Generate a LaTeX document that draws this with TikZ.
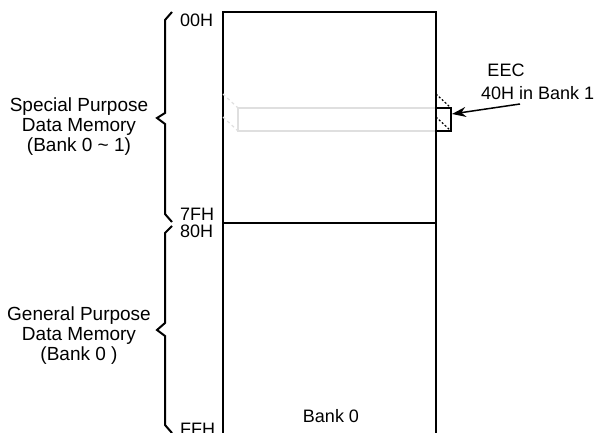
\documentclass[tikz,border=0pt]{standalone}
\usepackage{fontspec}
\setmainfont{Liberation Sans}
\usetikzlibrary{arrows.meta}
\begin{document}
\begin{tikzpicture}[x=1pt,y=-1pt]

% Define edges of the memory block
\def\memleft{223}
\def\memright{436}
% Define styles
\tikzset{memline/.style={line width=2pt},
        addr/.style={anchor=base west, inner sep=0pt, font=\fontsize{18}{20}\selectfont},
        sidetext/.style={align=center, inner sep=0pt, font=\fontsize{19}{20}\selectfont}
        }

\useasboundingbox (0,0) rectangle (598,433);

% Memory block (open at the bottom)
\draw[memline] (\memleft,450) -- (\memleft,12) -- (\memright,12) -- (\memright,450);
\draw[memline] (\memleft,223) -- (\memright,223); % Bank split at 80H

% EEC slice (gray inside the block)
\draw[gray!25, line width=1.5pt] (\memright,108) -- (238,108) -- (238,131) -- (\memright,131);
\draw[gray!25, line width=1.2pt, dashed] (\memleft,94) -- (238,108);
\draw[gray!25, line width=1.2pt, dashed] (\memleft,117) -- (238,131);
\draw[line width=1.6pt] (\memright,108) rectangle (451,131);
\draw[line width=1.2pt, dash pattern=on 2pt off 2pt] (\memright,94) -- (451,108);
\draw[line width=1.2pt, dash pattern=on 2pt off 2pt] (\memright,117) -- (451,131);

% Braces
\draw[memline] (172,12) -- (165,20) -- (165,113) -- (157,118) -- (165,124) -- (165,214) -- (172,222);
\draw[memline] (172,226) -- (165,233) -- (165,323) -- (157,330) -- (165,336) -- (165,425) -- (172,433);

% Addresses
\node[addr] (a00) at (180,27) {00H};
\node[addr] (a7f) at (180,221) {7FH};
\node[addr] (a80) at (180,238) {80H};
\node[addr] (aff) at (180,435) {FFH};
\node[addr, anchor=base] (bank) at (331,422) {Bank 0};

% Side texts
\node[sidetext] (special) at (79,127) {Special Purpose\\Data Memory\\(Bank 0 \textasciitilde{} 1)};
\node[sidetext] (general) at (79,336) {General Purpose\\Data Memory\\(Bank 0 )};

% EEC label and arrow
\node[addr, anchor=base] (eec) at (506,77) {EEC};
\node[addr] (eecaddr) at (481,100) {40H in Bank 1};
\coordinate (tail) at (520,104);
\coordinate (head) at (452,114);
\draw[line width=1.5pt, -{Stealth[length=14pt, width=10pt]}] (tail) -- (head);

\end{tikzpicture}
\end{document}
